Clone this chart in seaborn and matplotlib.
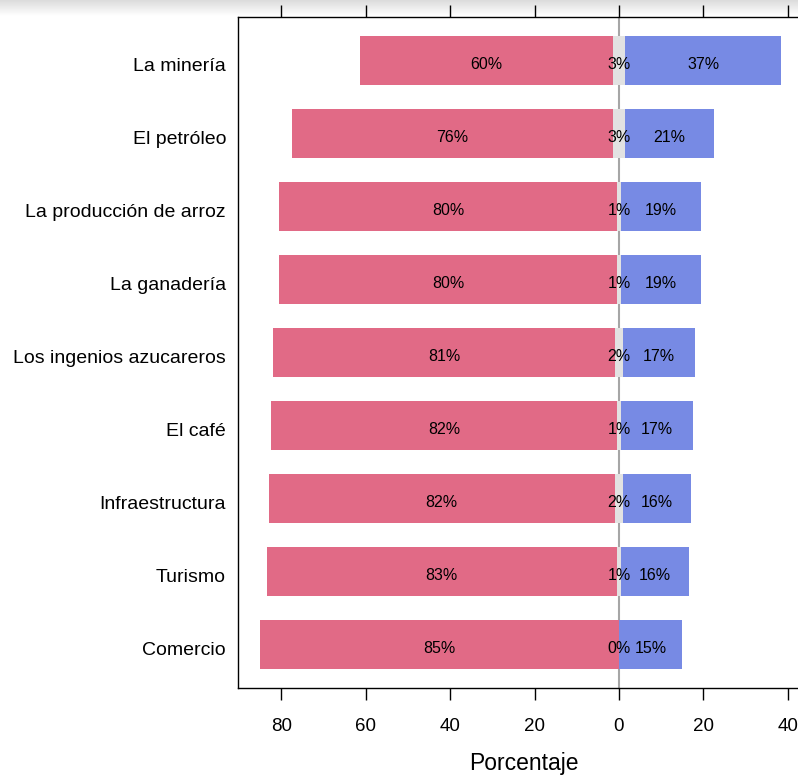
import numpy as np
import pandas as pd
import matplotlib
matplotlib.use("Agg")
import matplotlib.pyplot as plt
import matplotlib.transforms as mtransforms
import seaborn as sns

categories = ["La minería", "El petróleo", "La producción de arroz", "La ganadería",
              "Los ingenios azucareros", "El café", "Infraestructura", "Turismo", "Comercio"]
negative = [60, 76, 80, 80, 81, 82, 82, 83, 85]
neutral = [3, 3, 1, 1, 2, 1, 2, 1, 0]
positive = [37, 21, 19, 19, 17, 17, 16, 16, 15]
xticks = [-80, -60, -40, -20, 0, 20, 40]
xticklabels = ["80", "60", "40", "20", "0", "20", "40"]

PINK = "#E16A86"
BLUE = "#778AE4"
GRAY = "#E2E2E2"

sns.set_theme(style="white")
plt.rcParams["font.family"] = ["Liberation Sans", "DejaVu Sans"]
plt.rcParams["text.color"] = "black"
plt.rcParams["xtick.color"] = "black"
plt.rcParams["ytick.color"] = "black"
plt.rcParams["axes.labelcolor"] = "black"

df = pd.DataFrame({"cat": categories, "neg": negative, "neu": neutral, "pos": positive})
df["neg_end"] = -(df["neg"] + df["neu"] / 2)
df["pos_end"] = df["pos"] + df["neu"] / 2
df["neu_l"] = -df["neu"] / 2
df["neu_r"] = df["neu"] / 2

W, H = 798, 776
fig = plt.figure(figsize=(W / 100, H / 100), dpi=100)

# top gradient band
gax = fig.add_axes([0, 1 - 16 / H, 1, 16 / H], zorder=0)
grad = np.linspace(0.86, 1.0, 50).reshape(-1, 1)
gax.imshow(grad, aspect="auto", cmap="gray", vmin=0, vmax=1, extent=[0, 1, 0, 1])
gax.set_axis_off()

x0, x1 = -90.3, 45.0
left_px, zero_px = 238, 619
scale = (zero_px - left_px) / (-x0)
right_px = zero_px + x1 * scale
ax = fig.add_axes([left_px / W, 1 - 688 / H, (right_px - left_px) / W, (688 - 17) / H], zorder=1)

bw = 0.67
sns.barplot(data=df, x="pos_end", y="cat", color=BLUE, saturation=1, width=bw,
            errorbar=None, orient="h", ax=ax, zorder=2, linewidth=0)
sns.barplot(data=df, x="neg_end", y="cat", color=PINK, saturation=1, width=bw,
            errorbar=None, orient="h", ax=ax, zorder=2, linewidth=0)
sns.barplot(data=df, x="neu_l", y="cat", color=GRAY, saturation=1, width=bw,
            errorbar=None, orient="h", ax=ax, zorder=3, linewidth=0)
sns.barplot(data=df, x="neu_r", y="cat", color=GRAY, saturation=1, width=bw,
            errorbar=None, orient="h", ax=ax, zorder=3, linewidth=0)

ax.axvline(0, color="#A6A6A6", lw=1.5, zorder=1)

shift = mtransforms.ScaledTranslation(0, -4 / 100, fig.dpi_scale_trans)
ttrans = ax.transData + shift
for i, row in df.iterrows():
    ax.text(-(row["neu"] / 2 + row["neg"] / 2), i, f"{row['neg']}%", ha="center", va="center",
            fontsize=11.5, color="black", zorder=5, transform=ttrans)
    ax.text(0, i, f"{row['neu']}%", ha="center", va="center", fontsize=11.5, color="black",
            zorder=5, transform=ttrans)
    ax.text(row["neu"] / 2 + row["pos"] / 2, i, f"{row['pos']}%", ha="center", va="center",
            fontsize=11.5, color="black", zorder=5, transform=ttrans)

ax.set_xlim(x0, x1)
ax.set_ylim(len(categories) - 1 + 0.6, -0.6)
ax.set_xticks(xticks)
ax.set_xticklabels(xticklabels)
ax.tick_params(axis="x", which="both", bottom=True, top=True, labelbottom=True, labeltop=False,
               direction="out", length=8.6, width=1.0, color="black", labelsize=13.5, pad=13,
               labelcolor="black")
ax.tick_params(axis="y", length=0, pad=8.6, labelsize=14, labelcolor="black")
for lab in ax.get_yticklabels():
    lab.set_transform(lab.get_transform() + shift)
ax.set_ylabel("")
ax.set_xlabel("Porcentaje", fontsize=16.5, labelpad=12, color="black")
for s in ax.spines.values():
    s.set_visible(True)
    s.set_color("black")
    s.set_linewidth(1.0)
ax.set_facecolor("white")

fig.savefig("out.png", dpi=100, facecolor="white")
